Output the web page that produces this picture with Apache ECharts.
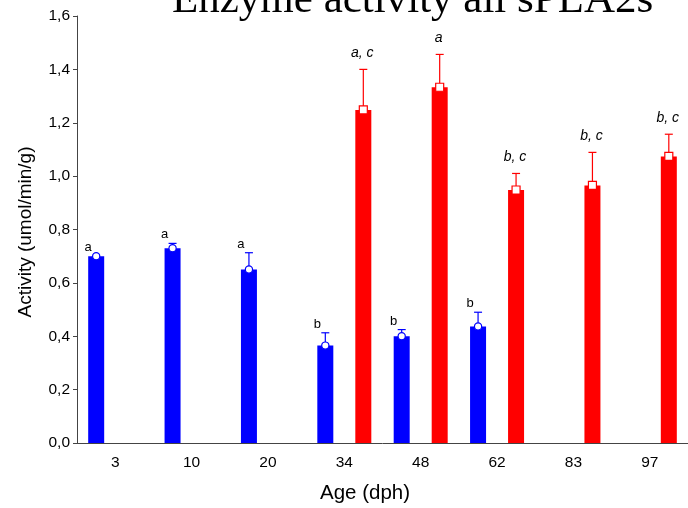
<!DOCTYPE html>
<html>
<head>
<meta charset="utf-8">
<script src="https://cdn.jsdelivr.net/npm/echarts@6/dist/echarts.min.js"></script>
<style>
  html, body { margin: 0; padding: 0; background: #fff; }
  #chart { width: 688px; height: 508px; }
</style>
</head>
<body>
<div id="chart"></div>
<script>
// age categories (dph)
var categories = ['3', '10', '20', '34', '48', '62', '83', '97'];
var yTicks = [0, 0.2, 0.4, 0.6, 0.8, 1.0, 1.2, 1.4, 1.6];

// blue group (mean and upper error)
var blueMean = [0.70, 0.73, 0.65, 0.365, 0.40, 0.437, null, null];
var blueErr = [0.0, 0.018, 0.063, 0.048, 0.025, 0.053, null, null];
var blueLabels = ['a', 'a', 'a', 'b', 'b', 'b', '', ''];

// red group
var redMean = [null, null, null, 1.248, 1.333, 0.948, 0.965, 1.074];
var redErr = [null, null, null, 0.152, 0.123, 0.062, 0.124, 0.083];
var redLabels = ['', '', '', 'a, c', 'a', 'b, c', 'b, c', 'b, c'];

var blue = '#0000ff';
var red = '#ff0000';
var BAR_W = 16;
var BAR_GAP = 22;
var OFFSET = (BAR_W + BAR_GAP) / 2;

function errData(mean, err, labels) {
    var out = [];
    for (var i = 0; i < mean.length; i++) {
        if (mean[i] == null) continue;
        out.push([i, mean[i], err[i], labels[i]]);
    }
    return out;
}

var blueData = errData(blueMean, blueErr, blueLabels);
var redData = errData(redMean, redErr, redLabels);

function makeRender(side, color, shape, italic) {
    var rows = side < 0 ? blueData : redData;
    return function (params, api) {
        var i = api.value(0);
        var m = api.value(1);
        var e = api.value(2);
        var lab = rows[params.dataIndex][3];
        var base = api.coord([i, m]);
        var top = api.coord([i, m + e]);
        var x = base[0] + side * OFFSET;
        var kids = [];
        if (e > 0) {
            kids.push({type: 'line', shape: {x1: x, y1: base[1], x2: x, y2: top[1]},
                style: {stroke: color, lineWidth: 1.2}});
            kids.push({type: 'line', shape: {x1: x - 4, y1: top[1], x2: x + 4, y2: top[1]},
                style: {stroke: color, lineWidth: 1.2}});
        }
        if (shape === 'circle') {
            kids.push({type: 'circle', shape: {cx: x, cy: base[1], r: 3.6},
                style: {fill: '#fff', stroke: color, lineWidth: 1.2}});
        } else {
            kids.push({type: 'rect', shape: {x: x - 4, y: base[1] - 4, width: 8, height: 8},
                style: {fill: '#fff', stroke: color, lineWidth: 1.2}});
        }
        if (lab) {
            if (italic) {
                kids.push({type: 'text', style: {text: lab, x: x - 1, y: top[1] - 9,
                    align: 'center', verticalAlign: 'bottom', fill: '#000',
                    font: 'italic 14px "Liberation Sans", Arial, sans-serif'}});
            } else {
                kids.push({type: 'text', style: {text: lab, x: x - 8, y: top[1] - 2,
                    align: 'center', verticalAlign: 'bottom', fill: '#000',
                    font: '13px "Liberation Sans", Arial, sans-serif'}});
            }
        }
        return {type: 'group', children: kids};
    };
}

var font = '"Liberation Sans", Arial, sans-serif';
var chart = echarts.init(document.getElementById('chart'));
chart.setOption({
    backgroundColor: '#fff',
    animation: false,
    grid: {left: 77, right: -2, top: 16, bottom: 65, containLabel: false},
    xAxis: {
        type: 'category',
        data: categories,
        axisLine: {lineStyle: {color: '#444', width: 1}},
        axisTick: {alignWithLabel: true, inside: true, length: 4, lineStyle: {color: '#444'}},
        axisLabel: {color: '#000', fontSize: 15.5, fontFamily: font, margin: 12},
        splitLine: {show: false}
    },
    yAxis: {
        type: 'value',
        min: yTicks[0],
        max: yTicks[yTicks.length - 1],
        interval: 0.2,
        axisLine: {show: true, lineStyle: {color: '#444', width: 1}},
        axisTick: {show: true, length: 4, lineStyle: {color: '#444'}},
        axisLabel: {color: '#000', fontSize: 15.5, fontFamily: font, margin: 7,
            formatter: function (v) { return v.toFixed(1).replace('.', ','); }},
        splitLine: {show: false}
    },
    graphic: [
        {type: 'text', left: 172, top: -21,
            style: {text: 'Enzyme activity all sPLA2s', fill: '#000',
                font: '43px "Liberation Serif", "Times New Roman", serif'}},
        {type: 'text', x: 26, y: 232, rotation: Math.PI / 2,
            style: {text: 'Activity (umol/min/g)', fill: '#000', align: 'center',
                verticalAlign: 'middle', font: '19px ' + font}},
        {type: 'text', x: 365, y: 493,
            style: {text: 'Age (dph)', fill: '#000', align: 'center',
                verticalAlign: 'middle', font: '20.5px ' + font}}
    ],
    series: [
        {type: 'bar', data: blueMean, barWidth: BAR_W, barGap: (BAR_GAP / BAR_W * 100) + '%',
            itemStyle: {color: blue}},
        {type: 'bar', data: redMean, barWidth: BAR_W,
            itemStyle: {color: red}},
        {type: 'custom', data: blueData, z: 5, renderItem: makeRender(-1, blue, 'circle', false)},
        {type: 'custom', data: redData, z: 5, renderItem: makeRender(1, red, 'square', true)}
    ]
});
</script>
</body>
</html>
